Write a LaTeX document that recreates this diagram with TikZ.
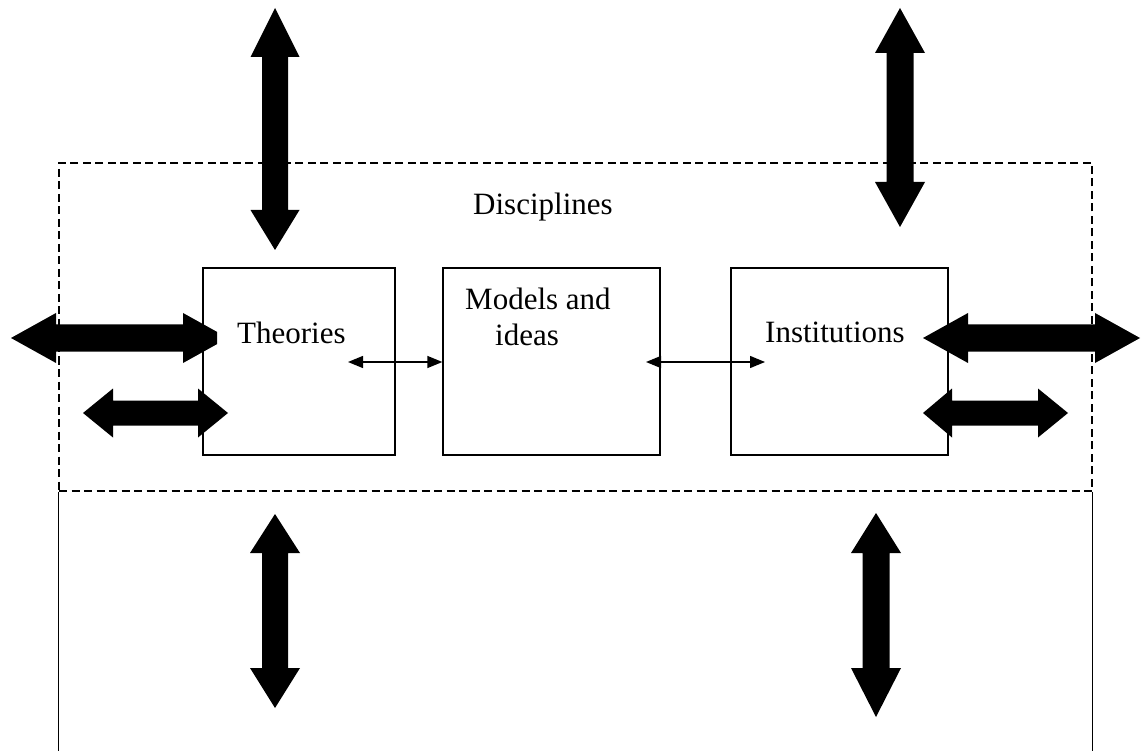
\documentclass[tikz,border=0pt]{standalone}
\usepackage{fontspec}
\setmainfont{Liberation Serif}
\usetikzlibrary{arrows.meta}

% Fat double-headed arrows as filled outlines.
% #1 first tip, #2 first head base, #3 second head base, #4 second tip,
% #5 axis position, #6 half shaft width, #7 half head width
\newcommand\bigHarrow[7]{%
  \fill (#1,#5) -- (#2,#5-#7) -- (#2,#5-#6) -- (#3,#5-#6) -- (#3,#5-#7)
    -- (#4,#5) -- (#3,#5+#7) -- (#3,#5+#6) -- (#2,#5+#6) -- (#2,#5+#7) -- cycle;}
\newcommand\bigVarrow[7]{%
  \fill (#5,#1) -- (#5-#7,#2) -- (#5-#6,#2) -- (#5-#6,#3) -- (#5-#7,#3)
    -- (#5,#4) -- (#5+#7,#3) -- (#5+#6,#3) -- (#5+#6,#2) -- (#5+#7,#2) -- cycle;}

\begin{document}
\begin{tikzpicture}[x=1pt,y=-1pt,
  every node/.style={font=\fontsize{31}{36}\selectfont, inner sep=0pt},
  frame/.style={draw, dash pattern=on 8pt off 4.5pt, line width=1.4pt},
  box/.style={draw, line width=1.3pt},
  side/.style={line width=1.4pt},
  link/.style={line width=1.3pt,
    {Triangle[length=15pt,width=12pt]}-{Triangle[length=15pt,width=12pt]}},
  label/.style={anchor=base west}]

\useasboundingbox (0,0) rectangle (1146,751);
\coordinate (bot) at (0,751);

% outer dashed frame and the solid sides below it
\node[frame, minimum width=1033pt, minimum height=328pt] (disc) at (575.5,327) {};
\draw[side] (disc.south west) -- (disc.south west |- bot);
\draw[side] (disc.south east) -- (disc.south east |- bot);

% inner boxes
\node[box, minimum width=192pt, minimum height=187pt] (theo) at (299,361.5) {};
\node[box, minimum width=217pt, minimum height=187pt] (models) at (551.5,361.5) {};
\node[box, minimum width=217pt, minimum height=187pt] (inst) at (839.5,361.5) {};

% labels
\node[label] (tdisc) at (473,215) {Disciplines};
\node[label] (ttheo) at (237,343) {Theories};
\node[label] (tmod1) at (465,310) {Models and};
\node[label] (tmod2) at (495,345) {ideas};
\node[label] (tinst) at (765,342) {Institutions};

% thin links between the boxes
\coordinate (l1) at (348,362);
\coordinate (r1) at (646,362);
\coordinate (r2) at (765,362);
\draw[link] (l1) -- (l1 -| models.west);
\draw[link] (r1) -- (r2);

% fat vertical arrows
\bigVarrow{8}{57}{210}{250}{275}{13}{24.5}
\bigVarrow{8}{53}{182}{227}{900}{13.5}{25}
\bigVarrow{514}{553}{668}{708}{275}{13}{25}
\bigVarrow{513}{553}{668}{717}{876}{13.5}{25}

% fat horizontal arrows
\begin{scope}
  \clip (0,300) rectangle (217,380);
  \bigHarrow{11}{56}{183}{228}{338}{13.5}{25}
\end{scope}
\bigHarrow{83}{113}{198}{228}{413}{12.5}{24.5}
\bigHarrow{923}{968}{1095}{1140}{338}{13.5}{25}
\bigHarrow{923}{952}{1038}{1068}{413}{12.5}{24.5}
\end{tikzpicture}
\end{document}
